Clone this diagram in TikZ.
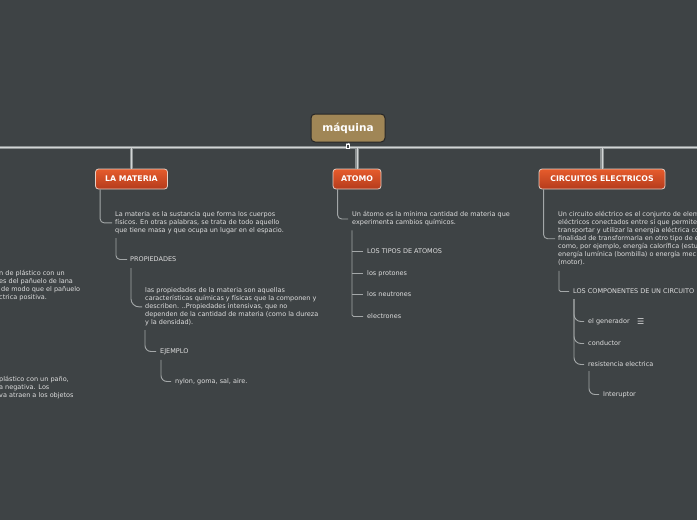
\documentclass[tikz,border=0pt]{standalone}
\usepackage{fontspec}
\setmainfont{DejaVu Sans}
\definecolor{bg}{HTML}{3E4345}
\definecolor{rootc}{HTML}{A08656}
\definecolor{topA}{HTML}{E65C2C}
\definecolor{topB}{HTML}{B53B1C}
\definecolor{topBorder}{HTML}{E6CFC4}
\definecolor{txtc}{HTML}{DEDEDE}
\definecolor{brc}{HTML}{A3A7A8}
\definecolor{trc}{HTML}{8D9293}
\definecolor{trin}{HTML}{D2D5D5}
\begin{document}
\begin{tikzpicture}[x=1pt,y=-1pt,
  rootbox/.style={rounded corners=4pt, fill=rootc, draw=black!85, line width=1pt, text=white,
    font=\bfseries\fontsize{10.5}{12}\selectfont, minimum width=74pt, minimum height=28pt, inner sep=0pt},
  topic/.style={rounded corners=3pt, top color=topA, bottom color=topB, draw=topBorder, line width=0.8pt,
    text=white, font=\bfseries\fontsize{7.8}{9}\selectfont, minimum height=20pt, inner sep=0pt},
  txt/.style={anchor=north west, inner sep=0pt, align=left, text=txtc, font=\fontsize{6.5}{8}\selectfont, yshift=-1.5pt},
  lbl/.style={anchor=west, inner sep=0pt, text=txtc, font=\fontsize{6.5}{8}\selectfont, yshift=-1.5pt},
  br/.style={draw=brc, line width=0.9pt, rounded corners=4pt},
  trunk/.style={draw=trc, line width=3.6pt},
  trunkin/.style={draw=trin, line width=1pt}]
\fill[bg] (0,0) rectangle (697,520);
\clip (0,0) rectangle (697,520);

% main nodes
\node[rootbox] (root) at (348,128) {máquina};
\node[topic, minimum width=72pt] (mat) at (131.5,179) {LA MATERIA};
\node[topic, minimum width=48pt] (atom) at (357,179) {ATOMO};
\node[topic, minimum width=126pt] (circ) at (602,179) {CIRCUITOS ELECTRICOS};

% trunk
\coordinate (tl) at (-5,147.5);
\coordinate (tr) at (702,147.5);
\foreach \s in {trunk,trunkin}{
  \draw[\s] (tl) -- (tr);
  \draw[\s] (root.south) -- (root.south |- tl);
  \draw[\s] (mat.north) -- (mat.north |- tl);
  \draw[\s] (atom.north) -- (atom.north |- tl);
  \draw[\s] (circ.north) -- (circ.north |- tl);
}
\node[draw=white, fill=bg, minimum width=3pt, minimum height=4pt, inner sep=0pt, line width=0.5pt] (mk) at (348,146.5) {};

% LA MATERIA branch
\node[txt] (matd) at (115,210) {La materia es la sustancia que forma los cuerpos\\físicos. En otras palabras, se trata de todo aquello\\que tiene masa y que ocupa un lugar en el espacio.};
\draw[br] ([xshift=5pt]mat.south west) |- ([xshift=-3pt]matd.west);
\node[lbl] (prop) at (130,258) {PROPIEDADES};
\draw[br] ([xshift=1pt,yshift=-4pt]matd.south west) |- ([xshift=-3pt]prop.west);
\node[txt] (propd) at (145,286) {las propiedades de la materia son aquellas\\características químicas y físicas que la componen y\\describen. ..Propiedades intensivas, que no\\dependen de la cantidad de materia (como la dureza\\y la densidad).};
\draw[br, rounded corners=8pt] ([xshift=1pt,yshift=-6pt]prop.south west) |- ([xshift=-3pt]propd.west);
\node[lbl] (ej) at (160,350) {EJEMPLO};
\draw[br, rounded corners=6pt] ([yshift=-4pt]propd.south west) |- ([xshift=-4pt]ej.west);
\node[lbl] (nyl) at (175,380) {nylon, goma, sal, aire.};
\draw[br, rounded corners=6pt] ([xshift=1pt,yshift=-5pt]ej.south west) |- ([xshift=-4pt]nyl.west);

% left cut-off texts
\node[txt] (lfa) at (-1,269) {n de plástico con un\\es del pañuelo de lana\\\hspace*{2pt}de modo que el pañuelo\\ctrica positiva.};
\node[txt] (lfb) at (-1,375) {plástico con un paño,\\a negativa. Los\\va atraen a los objetos};

% ATOMO branch
\node[txt] (atd) at (352,210) {Un átomo es la mínima cantidad de materia que\\experimenta cambios químicos.};
\draw[br] ([xshift=5pt]atom.south west) |- ([xshift=-4pt]atd.west);
\node[lbl] (t1) at (367,250) {LOS TIPOS DE ATOMOS};
\node[lbl] (t2) at (367,272) {los protones};
\node[lbl] (t3) at (367,293) {los neutrones};
\node[lbl] (t4) at (367,315) {electrones};
\draw[br, rounded corners=1.5pt] ([yshift=-4pt]atd.south west) |- ([xshift=-4pt]t4.west);
\foreach \t in {t1,t2,t3}{
  \draw[br] (atd.south west |- \t.west) -- ([xshift=-4pt]\t.west);
}

% CIRCUITOS branch
\node[txt] (cd) at (558,210) {Un circuito eléctrico es el conjunto de elem\\eléctricos conectados entre sí que permite\\transportar y utilizar la energía eléctrica co\\finalidad de transformarla en otro tipo de e\\como, por ejemplo, energía calorífica (estu\\energía lumínica (bombilla) o energía mec\\(motor).};
\draw[br] ([xshift=5pt]circ.south west) |- ([xshift=-3pt]cd.west);
\node[lbl] (comp) at (573,290) {LOS COMPONENTES DE UN CIRCUITO};
\draw[br, rounded corners=1.5pt] ([xshift=1pt,yshift=-5pt]cd.south west) |- ([xshift=-4pt]comp.west);
\node[lbl] (g1) at (588,320) {el generador};
\node[lbl] (g2) at (588,342) {conductor};
\node[lbl] (g3) at (588,363) {resistencia electrica};
\node[lbl, font=\fontsize{8}{9}\selectfont] (ico) at (637,320) {☰};
\foreach \g in {g1,g2,g3}{
  \draw[br, rounded corners=7pt] ([xshift=1pt,yshift=-5pt]comp.south west) |- ([xshift=-4pt]\g.west);
}
\node[lbl] (int) at (603,393) {Interuptor};
\draw[br, rounded corners=6pt] ([xshift=1pt,yshift=-4pt]g3.south west) |- ([xshift=-4pt]int.west);
\end{tikzpicture}
\end{document}
